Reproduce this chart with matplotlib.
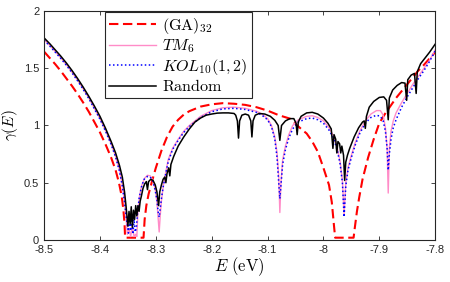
import numpy as np
import matplotlib
matplotlib.use("Agg")
import matplotlib.pyplot as plt

plt.rcParams['mathtext.fontset'] = 'cm'
plt.rcParams['font.family'] = ['Liberation Sans', 'DejaVu Sans']
plt.rcParams['axes.unicode_minus'] = False

# (GA)_32 periodic chain
ga_E = [-8.50, -8.49, -8.48, -8.47, -8.46, -8.45, -8.44, -8.43, -8.42, -8.41,
        -8.40, -8.39, -8.38, -8.372, -8.366, -8.361, -8.358, -8.356, -8.355,
        -8.34, -8.322, -8.320, -8.317, -8.313, -8.307, -8.30, -8.29, -8.28,
        -8.27, -8.26, -8.25, -8.24, -8.22, -8.20, -8.18, -8.16, -8.14, -8.12,
        -8.10, -8.08, -8.06, -8.04, -8.03, -8.02, -8.01, -8.00, -7.99, -7.985,
        -7.981, -7.979, -7.96, -7.946, -7.944, -7.940, -7.936, -7.93, -7.92,
        -7.91, -7.90, -7.89, -7.88, -7.87, -7.86, -7.85, -7.84, -7.83, -7.82,
        -7.81, -7.80]
ga_g = [1.645, 1.59, 1.535, 1.475, 1.41, 1.345, 1.275, 1.20, 1.12, 1.03,
        0.94, 0.835, 0.72, 0.61, 0.50, 0.38, 0.26, 0.14, 0.02,
        0.02, 0.02, 0.18, 0.30, 0.40, 0.51, 0.63, 0.78, 0.90,
        0.99, 1.05, 1.095, 1.125, 1.165, 1.185, 1.195, 1.19, 1.18, 1.16,
        1.13, 1.09, 1.06, 0.97, 0.93, 0.86, 0.77, 0.63, 0.48, 0.33,
        0.12, 0.02, 0.02, 0.02, 0.10, 0.25, 0.37, 0.53, 0.72,
        0.88, 1.02, 1.10, 1.17, 1.24, 1.30, 1.36, 1.42, 1.48, 1.53,
        1.585, 1.64]

# TM_6
tm_E = [-8.50, -8.49, -8.48, -8.47, -8.46, -8.45, -8.44, -8.43, -8.42, -8.41,
        -8.40, -8.39, -8.38, -8.372, -8.365, -8.360, -8.356, -8.353, -8.351,
        -8.348, -8.345, -8.342, -8.339, -8.336, -8.334, -8.332, -8.329, -8.325,
        -8.320, -8.315, -8.310, -8.305, -8.301, -8.298, -8.296, -8.294, -8.292,
        -8.290, -8.287, -8.283, -8.278, -8.27, -8.26, -8.25, -8.24, -8.22,
        -8.20, -8.18, -8.16, -8.14, -8.12, -8.11, -8.10, -8.093, -8.087,
        -8.083, -8.080, -8.078, -8.076, -8.073, -8.068, -8.062, -8.055, -8.045,
        -8.03, -8.02, -8.01, -8.00, -7.99, -7.982, -7.975, -7.970, -7.966,
        -7.963, -7.960, -7.956, -7.950, -7.943, -7.935, -7.925, -7.915, -7.905,
        -7.898, -7.893, -7.889, -7.886, -7.884, -7.882, -7.879, -7.875, -7.87,
        -7.86, -7.85, -7.84, -7.83, -7.82, -7.81, -7.80]
tm_g = [1.75, 1.70, 1.645, 1.59, 1.53, 1.465, 1.395, 1.32, 1.24, 1.15,
        1.06, 0.955, 0.84, 0.73, 0.61, 0.48, 0.34, 0.18, 0.05,
        0.10, 0.03, 0.12, 0.03, 0.05, 0.03, 0.25, 0.39, 0.48,
        0.54, 0.565, 0.56, 0.52, 0.44, 0.33, 0.20, 0.07, 0.22,
        0.34, 0.46, 0.57, 0.70, 0.80, 0.88, 0.95, 1.00, 1.08,
        1.13, 1.155, 1.16, 1.15, 1.125, 1.10, 1.06, 1.00, 0.90,
        0.76, 0.55, 0.24, 0.50, 0.70, 0.82, 0.92, 1.00, 1.05,
        1.08, 1.085, 1.07, 1.04, 0.98, 0.91, 0.80, 0.68, 0.52,
        0.22, 0.50, 0.63, 0.74, 0.85, 0.95, 1.04, 1.10, 1.13,
        1.13, 1.09, 0.98, 0.80, 0.41, 0.80, 0.95, 1.04, 1.11,
        1.20, 1.28, 1.36, 1.43, 1.50, 1.57, 1.66]

# KOL_10(1,2)
kol_E = [-8.50, -8.49, -8.48, -8.47, -8.46, -8.45, -8.44, -8.43, -8.42, -8.41,
         -8.40, -8.39, -8.38, -8.372, -8.365, -8.360, -8.356, -8.353, -8.351,
         -8.349, -8.347, -8.345, -8.343, -8.341, -8.339, -8.337, -8.335, -8.333,
         -8.330, -8.326, -8.321, -8.315, -8.310, -8.305, -8.301, -8.298, -8.296,
         -8.294, -8.292, -8.290, -8.287, -8.283, -8.278, -8.27, -8.26, -8.25,
         -8.24, -8.22, -8.20, -8.18, -8.16, -8.14, -8.12, -8.11, -8.10, -8.093,
         -8.087, -8.083, -8.080, -8.078, -8.076, -8.073, -8.068, -8.062, -8.055,
         -8.045, -8.03, -8.02, -8.01, -8.00, -7.99, -7.982, -7.975, -7.970,
         -7.966, -7.963, -7.960, -7.956, -7.950, -7.943, -7.935, -7.925, -7.915,
         -7.905, -7.898, -7.893, -7.889, -7.886, -7.884, -7.882, -7.879, -7.875,
         -7.87, -7.86, -7.85, -7.84, -7.83, -7.82, -7.81, -7.80]
kol_g = [1.745, 1.695, 1.64, 1.585, 1.525, 1.46, 1.39, 1.315, 1.235, 1.145,
         1.055, 0.95, 0.835, 0.725, 0.60, 0.47, 0.33, 0.20, 0.13,
         0.06, 0.20, 0.08, 0.22, 0.05, 0.18, 0.07, 0.10, 0.22,
         0.36, 0.46, 0.53, 0.555, 0.55, 0.51, 0.43, 0.35, 0.25,
         0.20, 0.28, 0.36, 0.46, 0.56, 0.68, 0.79, 0.87, 0.94,
         0.99, 1.07, 1.12, 1.145, 1.15, 1.14, 1.115, 1.09, 1.05, 0.99,
         0.88, 0.72, 0.50, 0.36, 0.48, 0.66, 0.79, 0.89, 0.97,
         1.03, 1.06, 1.065, 1.05, 1.02, 0.96, 0.89, 0.78, 0.66,
         0.50, 0.20, 0.47, 0.61, 0.72, 0.83, 0.93, 1.02, 1.07,
         1.09, 1.08, 1.04, 0.95, 0.80, 0.61, 0.75, 0.88, 0.98,
         1.05, 1.16, 1.25, 1.33, 1.41, 1.48, 1.56, 1.65]

# Random sequence
rnd_E = [-8.50, -8.49, -8.48, -8.47, -8.46, -8.45, -8.44, -8.43, -8.42, -8.41,
         -8.40, -8.39, -8.38, -8.372, -8.365, -8.360, -8.356, -8.353, -8.350,
         -8.348, -8.346, -8.344, -8.342, -8.340, -8.338, -8.336, -8.334, -8.332,
         -8.330, -8.328, -8.326, -8.323, -8.320, -8.317, -8.315, -8.313, -8.309,
         -8.305, -8.301, -8.298, -8.295, -8.293, -8.290, -8.287, -8.284, -8.282,
         -8.280, -8.277, -8.275, -8.273, -8.268, -8.26, -8.25, -8.24, -8.23,
         -8.22, -8.21, -8.20, -8.19, -8.18, -8.17, -8.16, -8.157, -8.154,
         -8.152, -8.150, -8.146, -8.14, -8.134, -8.130, -8.128, -8.126, -8.122,
         -8.115, -8.105, -8.095, -8.087, -8.081, -8.078, -8.075, -8.068, -8.060,
         -8.053, -8.049, -8.047, -8.045, -8.040, -8.030, -8.020, -8.010, -8.000,
         -7.992, -7.986, -7.983, -7.981, -7.978, -7.976, -7.974, -7.971, -7.969,
         -7.967, -7.964, -7.962, -7.960, -7.957, -7.953, -7.945, -7.937, -7.930,
         -7.927, -7.925, -7.923, -7.918, -7.910, -7.900, -7.892, -7.887, -7.884,
         -7.882, -7.876, -7.868, -7.860, -7.854, -7.851, -7.849, -7.843, -7.837,
         -7.834, -7.832, -7.826, -7.818, -7.810, -7.803, -7.800]
rnd_g = [1.765, 1.715, 1.66, 1.605, 1.545, 1.48, 1.41, 1.335, 1.255, 1.17,
         1.08, 0.975, 0.86, 0.76, 0.65, 0.55, 0.42, 0.28, 0.12,
         0.25, 0.14, 0.29, 0.11, 0.26, 0.18, 0.30, 0.21, 0.30,
         0.25, 0.34, 0.38, 0.45, 0.49, 0.51, 0.44, 0.51, 0.53,
         0.52, 0.48, 0.42, 0.30, 0.42, 0.48, 0.53, 0.55, 0.50,
         0.58, 0.63, 0.56, 0.66, 0.73, 0.82, 0.90, 0.97, 1.03,
         1.065, 1.09, 1.10, 1.108, 1.11, 1.11, 1.105, 1.09, 1.04,
         0.89, 1.04, 1.09, 1.10, 1.09, 1.04, 0.90, 1.04, 1.09,
         1.105, 1.10, 1.08, 1.045, 1.00, 0.87, 1.00, 1.04, 1.06,
         1.06, 1.02, 0.92, 1.03, 1.08, 1.11, 1.115, 1.10, 1.065,
         1.02, 0.97, 0.80, 0.92, 0.88, 0.76, 0.86, 0.84, 0.76,
         0.82, 0.74, 0.52, 0.68, 0.74, 0.80, 0.90, 0.98, 1.03,
         1.04, 0.975, 1.08, 1.16, 1.21, 1.245, 1.25, 1.22, 1.05,
         1.24, 1.31, 1.35, 1.375, 1.37, 1.22, 1.40, 1.44, 1.455,
         1.28, 1.47, 1.54, 1.59, 1.64, 1.69, 1.71]

x_ticks = [-8.5, -8.4, -8.3, -8.2, -8.1, -8.0, -7.9, -7.8]
x_ticklabels = ['-8.5', '-8.4', '-8.3', '-8.2', '-8.1', '-8', '-7.9', '-7.8']
y_ticks = [0, 0.5, 1, 1.5, 2]
y_ticklabels = ['0', '0.5', '1', '1.5', '2']

fig = plt.figure(figsize=(4.5, 2.82), dpi=100)
ax = fig.add_axes([0.098, 0.149, 0.869, 0.812])

ax.plot(ga_E, ga_g, color='#ff0000', lw=1.5, dashes=(4.5, 2.2),
        label=r'$\mathrm{(GA)}_{32}$')
ax.plot(tm_E, tm_g, color='#ff8cc8', lw=1.0, label=r'$TM_6$')
ax.plot(kol_E, kol_g, color='#0000ff', lw=1.1, linestyle=(0, (1, 1.6)),
        label=r'$KOL_{10}(1,2)$')
ax.plot(rnd_E, rnd_g, color='black', lw=1.1, label=r'$\mathrm{Random}$')

ax.set_xlim(-8.5, -7.8)
ax.set_ylim(0, 2)
ax.set_xticks(x_ticks)
ax.set_xticklabels(x_ticklabels)
ax.set_yticks(y_ticks)
ax.set_yticklabels(y_ticklabels)
ax.tick_params(direction='in', top=True, right=True, labelsize=8,
               length=3, width=0.6, colors='#262626')
for s in ax.spines.values():
    s.set_linewidth(0.8)
    s.set_color('#262626')

ax.set_xlabel(r'$E\ \mathrm{(eV)}$', fontsize=12, labelpad=0)
ax.set_ylabel(r'$\gamma(E)$', fontsize=11)
ax.yaxis.set_label_coords(-0.062, 0.5)

leg = ax.legend(loc='upper left', bbox_to_anchor=(0.156, 0.997),
                borderaxespad=0, fontsize=11.6, handlelength=2.9,
                labelspacing=0.1, fancybox=False, framealpha=1,
                edgecolor='#262626', borderpad=0.25, handletextpad=0.4)
leg.get_frame().set_linewidth(0.8)

fig.savefig('out.png', dpi=100)
